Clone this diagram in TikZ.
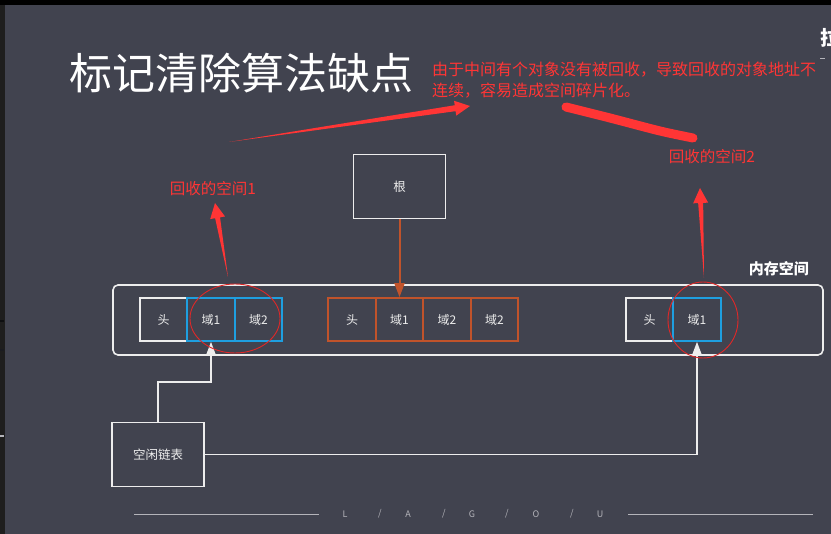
\documentclass[tikz,border=0pt]{standalone}
\usepackage{fontspec}
\setmainfont{Noto Sans CJK SC}
\usetikzlibrary{arrows.meta,calc,shapes.geometric}
\definecolor{bg}{HTML}{41434F}
\definecolor{strip}{HTML}{1E1E1E}
\definecolor{penred}{HTML}{FF3535}
\definecolor{ringred}{HTML}{E02828}
\definecolor{blueb}{HTML}{1E9FE0}
\definecolor{rust}{HTML}{C0532B}
\definecolor{txt}{HTML}{EDEDED}
\definecolor{foot}{HTML}{B4B4BA}

% tapered red pointer: #1 tail, #2 tip, #3 head half-width, #4 shaft half-width
\newcommand\taperarrow[4]{%
  \fill[penred] (#1)
    -- ($(#2)!15pt!(#1)!#4!90:(#1)$)
    -- ($(#2)!15pt!(#1)!#3!90:(#1)$)
    -- (#2)
    -- ($(#2)!15pt!(#1)!#3!-90:(#1)$)
    -- ($(#2)!15pt!(#1)!#4!-90:(#1)$)
    -- cycle;}

\begin{document}
\begin{tikzpicture}[x=1pt,y=-1pt,
  cell/.style={draw, line width=1.6pt, minimum width=47.5pt, minimum height=43pt,
    inner sep=0pt, text=txt, font=\fontsize{12}{12}\selectfont},
  whitecell/.style={cell, draw=txt},
  bluecell/.style={cell, draw=blueb},
  rustcell/.style={cell, draw=rust},
  plainbox/.style={draw=txt, line width=1.6pt, minimum width=92pt, minimum height=64pt,
    inner sep=0pt, text=txt, font=\fontsize{12.5}{12.5}\selectfont},
  ring/.style={ellipse, draw=ringred, line width=0.9pt, inner sep=0pt},
  redlabel/.style={text=penred, inner sep=0pt, font=\fontsize{15.5}{15.5}\selectfont},
  wline/.style={draw=txt, line width=1.6pt},
  wtip/.style={-{Triangle[width=10pt,length=14pt]}},
  footletter/.style={text=foot, inner sep=0pt, font=\fontsize{9}{9}\selectfont},
]
\clip (0,0) rectangle (831,534);
% backdrop
\fill[bg] (0,0) rectangle (831,534);
\fill[black] (0,0) rectangle (831,5);
\fill[strip] (0,5) rectangle (5,534);
\fill[black!80!bg] (0,320) rectangle (4,322);
\fill[black!60!bg] (0,349) rectangle (4,351);
\fill[foot] (0,435) rectangle (4,437);

% heading and remark
\node[anchor=west, inner sep=0pt, text=white, font=\fontsize{43}{43}\selectfont] (title) at (69,73) {标记清除算法缺点};
\node[anchor=west, redlabel, font=\fontsize{16}{16}\selectfont] (note1) at (432,70) {由于中间有个对象没有被回收，导致回收的对象地址不};
\node[anchor=west, redlabel, font=\fontsize{16}{16}\selectfont] (note2) at (432,91) {连续，容易造成空间碎片化。};
\node[anchor=west, inner sep=0pt, text=white, font=\fontsize{20}{20}\bfseries] (corner) at (820,38) {拉};
\draw[foot, line width=0.8pt] (820,58) -- (825,58);

% memory region
\node[draw=txt, line width=1.6pt, rounded corners=5pt, minimum width=710pt, minimum height=70pt, inner sep=0pt] (mem) at (468,320) {};
\node[anchor=east, inner sep=0pt, text=white, font=\fontsize{15}{15}\bfseries] (memlabel) at (809,269) {内存空间};

% left object
\node[whitecell] (Lh) at (163.5,319.5) {头};
\node[bluecell] (L1) at (211,319.5) {域1};
\node[bluecell] (L2) at (258.5,319.5) {域2};
% middle object (reachable from root)
\node[rustcell] (Mh) at (352,319.5) {头};
\node[rustcell] (M1) at (399.5,319.5) {域1};
\node[rustcell] (M2) at (447,319.5) {域2};
\node[rustcell] (M3) at (494.5,319.5) {域2};
% right object
\node[whitecell] (Rh) at (649.5,319.5) {头};
\node[bluecell] (R1) at (697,319.5) {域1};

% root and free list
\node[plainbox] (root) at (399.5,186.5) {根};
\node[plainbox] (free) at (158,454.5) {空闲链表};

\draw[rust, line width=2pt, -{Triangle[width=10pt,length=14pt]}] (root.south) -- (M1.north);

\coordinate (bendA) at (158,382);
\coordinate (bendB) at (211,382);
\draw[wline, wtip] (free.north) -- (bendA) -- (bendB) -- (L1.south);
\draw[wline, wtip] (free.east) -| (R1.south);

% reclaimed areas
\node[ring, minimum width=90pt, minimum height=69pt] (gap1) at (235,318.5) {};
\node[ring, minimum width=70pt, minimum height=76pt] (gap2) at (703,320) {};

\node[redlabel] (lab1) at (213,189) {回收的空间1};
\node[redlabel] (lab2) at (712,157) {回收的空间2};

% pointers
\coordinate (t1) at (229,142);
\coordinate (h1) at (470,106);
\taperarrow{t1}{h1}{7.5pt}{3pt}
\coordinate (t2) at (228,277);
\coordinate (h2) at (215,203);
\taperarrow{t2}{h2}{7.5pt}{2.5pt}
\coordinate (t3) at (704,278);
\coordinate (h3) at (700,188);
\taperarrow{t3}{h3}{7.5pt}{2.5pt}

% brush stroke under the remark
\draw[penred, line width=9pt, line cap=round] plot[smooth, tension=0.5] coordinates {(566,107) (610,118) (660,131) (693,138)};

% footer
\draw[foot, line width=0.8pt] (134,514) -- (319,514);
\draw[foot, line width=0.8pt] (628,514) -- (813,514);
\node[footletter] (fL) at (345,514) {L};
\node[footletter] (s1) at (380,514) {/};
\node[footletter] (fA) at (408,514) {A};
\node[footletter] (s2) at (444,514) {/};
\node[footletter] (fG) at (472,514) {G};
\node[footletter] (s3) at (507,514) {/};
\node[footletter] (fO) at (536,514) {O};
\node[footletter] (s4) at (572,514) {/};
\node[footletter] (fU) at (600,514) {U};
\end{tikzpicture}
\end{document}
